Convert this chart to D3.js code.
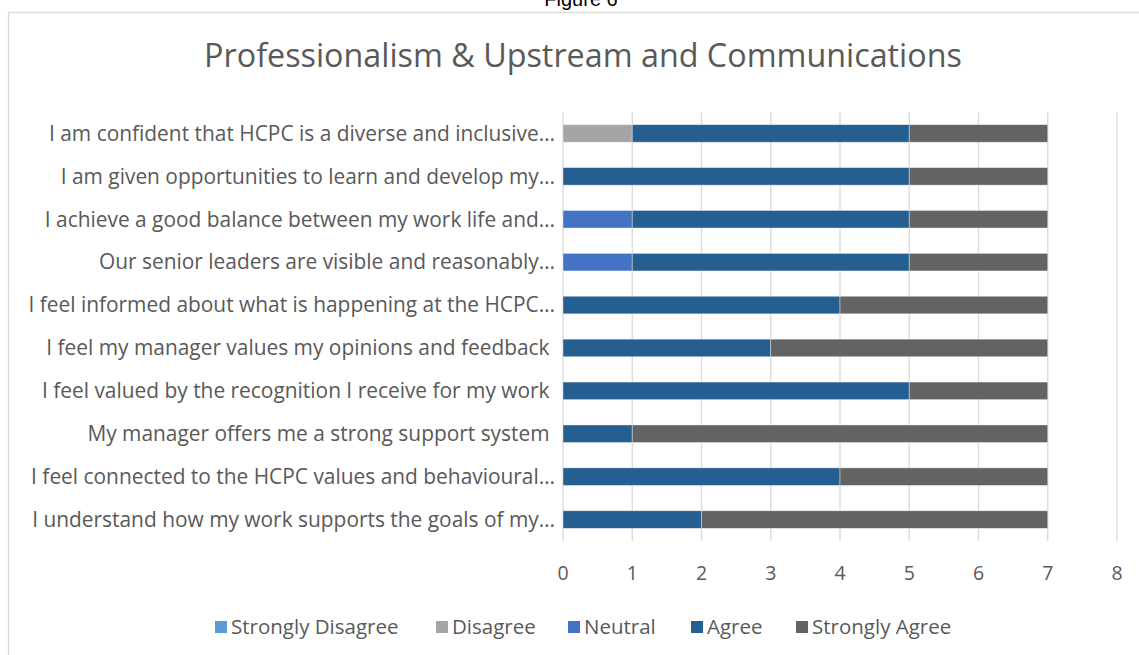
<!DOCTYPE html>
<html>
<head>
<meta charset="utf-8">
<script src="https://cdn.jsdelivr.net/npm/d3@7"></script>
<style>
  body { margin: 0; background: #fff; }
  svg { display: block; }
</style>
</head>
<body>
<script>
// chart data (top row first)
var categories = [
  'I am confident that HCPC is a diverse and inclusive…',
  'I am given opportunities to learn and develop my…',
  'I achieve a good balance between my work life and…',
  'Our senior leaders are visible and reasonably…',
  'I feel informed about what is happening at the HCPC…',
  'I feel my manager values my opinions and feedback ',
  'I feel valued by the recognition I receive for my work ',
  'My manager offers me a strong support system ',
  'I feel connected to the HCPC values and behavioural…',
  'I understand how my work supports the goals of my…'
]
var seriesNames = ['Strongly Disagree', 'Disagree', 'Neutral', 'Agree', 'Strongly Agree']
var stronglyDisagree = [0, 0, 0, 0, 0, 0, 0, 0, 0, 0]
var disagree         = [1, 0, 0, 0, 0, 0, 0, 0, 0, 0]
var neutral          = [0, 0, 1, 1, 0, 0, 0, 0, 0, 0]
var agree            = [4, 5, 4, 4, 4, 3, 5, 1, 4, 2]
var stronglyAgree    = [2, 2, 2, 2, 3, 4, 2, 6, 3, 5]
var xTicks = [0, 1, 2, 3, 4, 5, 6, 7, 8]

var colors = ['#5b9bd5', '#a5a5a5', '#4472c4', '#255e91', '#636363']
var textColor = '#595959'
var font = '"Open Sans", sans-serif'

var rows = categories.map((c, i) => ({
  cat: c,
  'Strongly Disagree': stronglyDisagree[i],
  'Disagree': disagree[i],
  'Neutral': neutral[i],
  'Agree': agree[i],
  'Strongly Agree': stronglyAgree[i]
}))

var W = 1139, H = 655
var svg = d3.select('body').append('svg').attr('width', W).attr('height', H)

// outer chart border (runs off the right and bottom edges)
svg.append('rect')
  .attr('x', 8.5).attr('y', 12.5)
  .attr('width', 1150).attr('height', 670)
  .attr('fill', 'none').attr('stroke', '#d9d9d9').attr('stroke-width', 1.3)

// page caption, clipped at the top like the source
svg.append('text')
  .attr('x', 581).attr('y', 6)
  .attr('text-anchor', 'middle')
  .attr('font-family', '"Liberation Sans", Arial, sans-serif')
  .attr('font-size', 20)
  .attr('fill', '#000')
  .text('Figure 6')

svg.append('text')
  .attr('x', 583).attr('y', 67)
  .attr('text-anchor', 'middle')
  .attr('font-family', font)
  .attr('font-size', 32.3)
  .attr('fill', textColor)
  .text('Professionalism & Upstream and Communications')

var x = d3.scaleLinear().domain([0, 8]).range([563, 1117])
var y = d3.scaleBand().domain(categories).range([112, 541]).paddingInner(0.59).paddingOuter(0.295)

// gridlines
svg.append('g')
  .selectAll('line')
  .data(xTicks)
  .enter().append('line')
    .attr('x1', d => x(d)).attr('x2', d => x(d))
    .attr('y1', 112).attr('y2', 541)
    .attr('stroke', '#d9d9d9').attr('stroke-width', 1.3)

var stack = d3.stack().keys(seriesNames)
var layers = stack(rows)

svg.append('g')
  .selectAll('g')
  .data(layers)
  .enter().append('g')
    .attr('fill', (d, i) => colors[i])
  .selectAll('rect')
  .data(d => d.filter(s => s[1] - s[0] > 0))
  .enter().append('rect')
    .attr('x', d => x(d[0]))
    .attr('width', d => x(d[1]) - x(d[0]))
    .attr('y', d => y(d.data.cat))
    .attr('height', y.bandwidth())
    .attr('stroke', '#ffffff').attr('stroke-opacity', 0.5).attr('stroke-width', 0.8)

// category labels
svg.append('g')
  .selectAll('text')
  .data(categories)
  .enter().append('text')
    .attr('x', 555)
    .attr('y', d => y(d) + y.bandwidth() / 2)
    .attr('dy', '0.35em')
    .attr('text-anchor', 'end')
    .attr('font-family', font)
    .attr('font-size', 20.9)
    .attr('fill', textColor)
    .style('white-space', 'pre')
    .text(d => d)

// x tick labels
svg.append('g')
  .selectAll('text')
  .data(xTicks)
  .enter().append('text')
    .attr('x', d => x(d))
    .attr('y', 573)
    .attr('dy', '0.35em')
    .attr('text-anchor', 'middle')
    .attr('font-family', font)
    .attr('font-size', 19.5)
    .attr('fill', textColor)
    .text(d => d)

// legend
var legendX = [215, 436, 568, 691, 796]
var legend = svg.append('g')
  .selectAll('g')
  .data(seriesNames)
  .enter().append('g')
    .attr('transform', (d, i) => `translate(${legendX[i]}, 627)`)
legend.append('rect')
  .attr('x', 0).attr('y', -6)
  .attr('width', 12).attr('height', 12)
  .attr('fill', (d, i) => colors[i])
legend.append('text')
  .attr('x', 16)
  .attr('dy', '0.35em')
  .attr('font-family', font)
  .attr('font-size', 20.5)
  .attr('fill', textColor)
  .text(d => d)
</script>
</body>
</html>
